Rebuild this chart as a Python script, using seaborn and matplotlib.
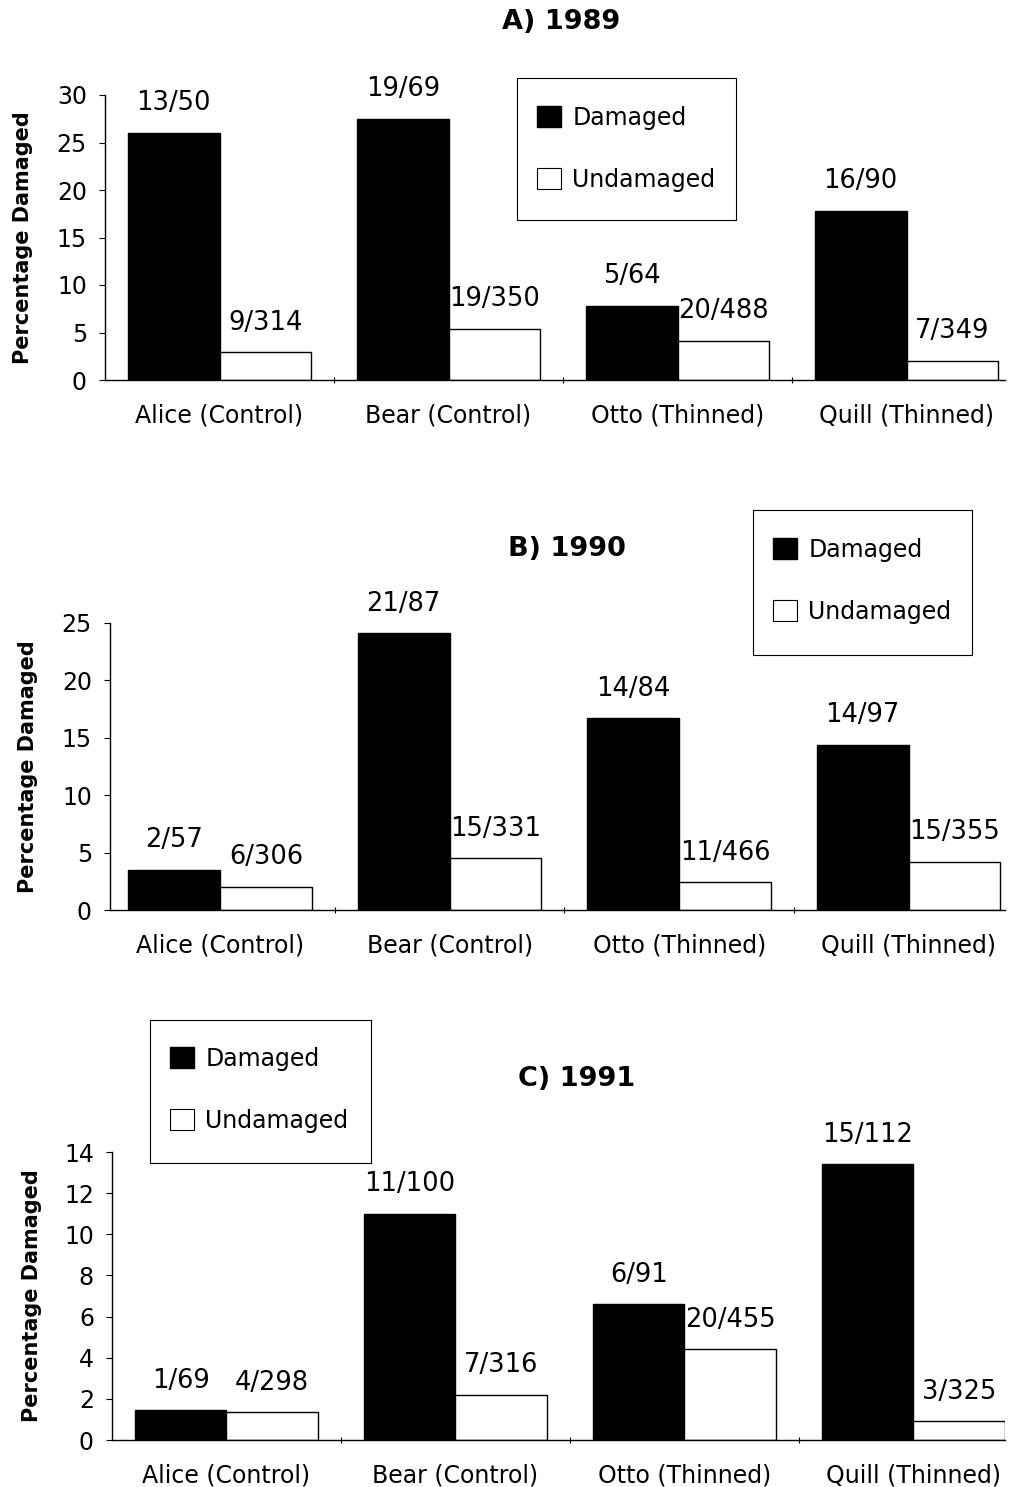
import matplotlib
matplotlib.use("Agg")
import matplotlib.pyplot as plt
import seaborn as sns
import pandas as pd
from matplotlib.patches import Patch, Rectangle

sites = ["Alice (Control)", "Bear (Control)", "Otto (Thinned)", "Quill (Thinned)"]
statuses = ["Damaged", "Undamaged"]

# Percent values per year (Damaged, Undamaged for each site)
dam_1989 = [26.0, 27.5, 7.8, 17.8]
und_1989 = [2.9, 5.4, 4.1, 2.0]
lab_dam_1989 = ["13/50", "19/69", "5/64", "16/90"]
lab_und_1989 = ["9/314", "19/350", "20/488", "7/349"]

dam_1990 = [3.5, 24.1, 16.7, 14.4]
und_1990 = [2.0, 4.5, 2.4, 4.2]
lab_dam_1990 = ["2/57", "21/87", "14/84", "14/97"]
lab_und_1990 = ["6/306", "15/331", "11/466", "15/355"]

dam_1991 = [1.45, 11.0, 6.6, 13.4]
und_1991 = [1.35, 2.2, 4.4, 0.9]
lab_dam_1991 = ["1/69", "11/100", "6/91", "15/112"]
lab_und_1991 = ["4/298", "7/316", "20/455", "3/325"]

titles = ["A) 1989", "B) 1990", "C) 1991"]
yticks_list = [[0, 5, 10, 15, 20, 25, 30], [0, 5, 10, 15, 20, 25], [0, 2, 4, 6, 8, 10, 12, 14]]
ylims = [30, 25, 14]

sns.set_style("white")
plt.rcParams['font.family'] = ['DejaVu Sans']
for k in ["text.color", "axes.labelcolor", "xtick.color", "ytick.color", "axes.edgecolor"]:
    plt.rcParams[k] = "black"

W, H = 1019, 1487
fig = plt.figure(figsize=(W / 100, H / 100), dpi=100)

# pixel layout: (left, right, bottom, top)
boxes = [(105, 1005, 380, 95), (110, 1005, 910, 623), (112, 1005, 1440, 1152)]
title_pos = [(561, 22), (567, 549), (577, 1079)]
# legend frame (x0, y0, x1, y1) and first entry (handle left x, first row center y)
legend_frames = [(517, 78, 736, 220), (753, 510, 972, 655), (150, 1020, 371, 1163)]
legend_entries = [(537, 118), (773, 550), (170, 1059)]
ylabel_x = [33, 38, 42]
xlims = [(-0.5, 3.43), (-0.48, 3.42), (-0.5, 3.4)]

data = [
    (dam_1989, und_1989, lab_dam_1989, lab_und_1989),
    (dam_1990, und_1990, lab_dam_1990, lab_und_1990),
    (dam_1991, und_1991, lab_dam_1991, lab_und_1991),
]

FS = 17
for i, (dam, und, ld, lu) in enumerate(data):
    l, r, b, t = boxes[i]
    ax = fig.add_axes([l / W, 1 - b / H, (r - l) / W, (b - t) / H])
    df = pd.DataFrame({
        "site": sites * 2,
        "status": ["Damaged"] * 4 + ["Undamaged"] * 4,
        "pct": list(dam) + list(und),
    })
    sns.barplot(data=df, x="site", y="pct", hue="status", order=sites,
                hue_order=statuses, palette={"Damaged": "black", "Undamaged": "white"},
                edgecolor="black", linewidth=1, errorbar=None, width=0.8,
                legend=False, ax=ax)
    for cont, labs in zip(ax.containers, [ld, lu]):
        ax.bar_label(cont, labels=labs, padding=12, fontsize=18.5, color="black")
    ax.set_ylim(0, ylims[i])
    ax.set_xlim(*xlims[i])
    ax.set_yticks(yticks_list[i])
    ax.set_yticklabels([str(v) for v in yticks_list[i]], fontsize=FS)
    ax.tick_params(axis="y", which="major", direction="out", length=4, width=0.8,
                   pad=9, left=True, color="black")
    ax.set_xticks([0.5, 1.5, 2.5])
    ax.set_xticklabels([])
    ax.tick_params(axis="x", which="major", direction="inout", length=5, width=0.8,
                   bottom=True, color="black")
    ax.set_xticks(range(4), minor=True)
    ax.set_xticklabels(sites, minor=True, fontsize=FS)
    ax.tick_params(axis="x", which="minor", length=0, pad=17)
    ax.set_xlabel("")
    ax.set_ylabel("Percentage Damaged", fontsize=15, fontweight="bold")
    ax.yaxis.set_label_coords((ylabel_x[i] - l) / (r - l), 0.5)
    for s in ["top", "right"]:
        ax.spines[s].set_visible(False)
    for s in ["left", "bottom"]:
        ax.spines[s].set_color("black")
        ax.spines[s].set_linewidth(1)
    ax.set_facecolor("white")

    tx, ty = title_pos[i]
    fig.text(tx / W, 1 - ty / H, titles[i], ha="center", va="center",
             fontsize=19.5, fontweight="bold")

    fx0, fy0, fx1, fy1 = legend_frames[i]
    fig.patches.append(Rectangle((fx0 / W, 1 - fy1 / H), (fx1 - fx0) / W, (fy1 - fy0) / H,
                                 transform=fig.transFigure, facecolor="white",
                                 edgecolor="black", linewidth=0.8, zorder=5))
    hx, hy = legend_entries[i]
    handles = [Patch(facecolor="black", edgecolor="black", linewidth=1),
               Patch(facecolor="white", edgecolor="black", linewidth=0.8)]
    leg = fig.legend(handles, statuses, loc="upper left",
                     bbox_to_anchor=(hx / W, 1 - (hy - 12) / H), bbox_transform=fig.transFigure,
                     borderaxespad=0, fontsize=FS, frameon=False,
                     handlelength=1.0, handleheight=1.0, handletextpad=0.5,
                     labelspacing=1.6, borderpad=0)
    leg.set_zorder(6)
    for txt in leg.get_texts():
        txt.set_color("black")

fig.savefig("out.png", dpi=100, facecolor="white")
